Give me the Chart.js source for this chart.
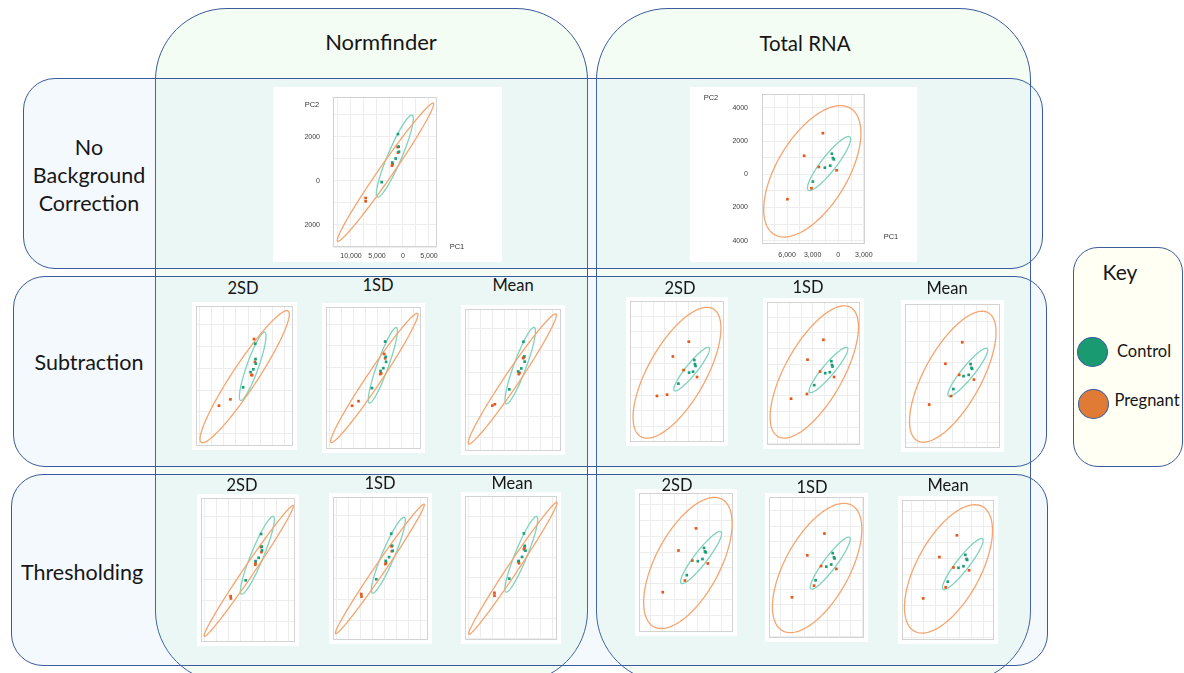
<!DOCTYPE html>
<html>
<head>
<meta charset="utf-8">
<title>PCA of background correction and normalisation methods</title>
<script src="https://cdn.jsdelivr.net/npm/chart.js@4.4.1/dist/chart.umd.min.js"></script>
<style>
  html, body { margin: 0; padding: 0; background: #fff; }
  #stage { position: relative; width: 1184px; height: 673px; overflow: hidden; background: #fff;
           font-family: Lato, "Open Sans", sans-serif; color: #161616; }
  .box { position: absolute; box-sizing: border-box; border: 1.3px solid #3b5b9d; }
  .col { background: rgba(145, 235, 150, 0.10); border-radius: 72px; }
  .row { background: rgba(145, 195, 245, 0.10); border-radius: 32px; }
  .key { background: #fffff3; border-radius: 25px; }
  .lbl { position: absolute; z-index: 3; transform: translate(-50%, -50%); white-space: nowrap; line-height: 1; text-align: center; }
  .head { font-size: 21.5px; }
  .sub { font-size: 16.5px; }
  .axn { font-family: "Liberation Sans", sans-serif; font-size: 7.5px; color: #333; }
  .dot { position: absolute; box-sizing: border-box; width: 31px; height: 30px; border-radius: 50%; border: 1px solid #3b5b9d; }
  canvas.panel { position: absolute; z-index: 2; background: #fff; }
</style>
</head>
<body>
<div id="stage">
  <div class="box col" style="left:155px;top:7.5px;width:433px;height:675px"></div>
  <div class="box col" style="left:595.5px;top:7.5px;width:435px;height:675px"></div>
  <div class="box row" style="left:23px;top:78px;width:1020px;height:191px"></div>
  <div class="box row" style="left:13px;top:276px;width:1034px;height:191px"></div>
  <div class="box row" style="left:10.5px;top:473.5px;width:1037px;height:192.5px"></div>
  <div class="box key" style="left:1073px;top:247px;width:110px;height:220px"></div>

  <div class="lbl head" style="left:381px;top:42px;font-size:22px">Normfinder</div>
  <div class="lbl head" style="left:805px;top:43px;font-size:20.5px">Total RNA</div>
  <div class="lbl head" style="left:89px;top:175px;line-height:28px">No<br>Background<br>Correction</div>
  <div class="lbl head" style="left:89px;top:363px">Subtraction</div>
  <div class="lbl head" style="left:82px;top:573px">Thresholding</div>

  <div class="lbl sub" style="left:243px;top:288px">2SD</div>
  <div class="lbl sub" style="left:378px;top:285px">1SD</div>
  <div class="lbl sub" style="left:513px;top:285px">Mean</div>
  <div class="lbl sub" style="left:680px;top:288px">2SD</div>
  <div class="lbl sub" style="left:808px;top:287px">1SD</div>
  <div class="lbl sub" style="left:947px;top:288px">Mean</div>
  <div class="lbl sub" style="left:242px;top:485px">2SD</div>
  <div class="lbl sub" style="left:380px;top:483px">1SD</div>
  <div class="lbl sub" style="left:512px;top:483px">Mean</div>
  <div class="lbl sub" style="left:677px;top:485px">2SD</div>
  <div class="lbl sub" style="left:812px;top:487px">1SD</div>
  <div class="lbl sub" style="left:948px;top:485px">Mean</div>

  <div class="lbl head" style="left:1120px;top:271px;font-size:21px">Key</div>
  <div class="dot" style="left:1077px;top:337px;background:#1a9a70"></div>
  <div class="dot" style="left:1078px;top:389px;background:#e07b35"></div>
  <div class="lbl sub" style="left:1144px;top:351px">Control</div>
  <div class="lbl sub" style="left:1147px;top:400px">Pregnant</div>
</div>

<script>
// PCA scores (PC1, PC2) per sample, and 95% ellipses per group.
// Ellipse arrays: centre PC1, centre PC2, half-span PC1, half-span PC2, PC1-PC2 correlation.

// Normfinder - no background correction
const nfNoBgControl  = [[-960,2120],[-830,1550],[-770,1320],[-1410,1010],[-2050,830],[-4100,-60]];
const nfNoBgPregnant = [[-1030,1530],[-960,1280],[-1990,750],[-2120,690],[-7180,-780],[-7180,-930]];
const nfNoBgControlEllipse  = [-1570,1120,3560,1860,0.914];
const nfNoBgPregnantEllipse = [-3370,390,9260,3130,0.985];

// Total RNA - no background correction
const trNoBgControl  = [[-745,1240],[-627,980],[-510,900],[-941,520],[-1568,400],[-2979,-440]];
const trNoBgPregnant = [[-1803,2480],[-3998,1120],[-2274,440],[-196,240],[-3136,-840],[-5958,-1500]];
const trNoBgControlEllipse  = [-1080,650,2530,1630,0.9];
const trNoBgPregnantEllipse = [-3040,180,5700,3960,0.58];

// Normfinder - subtraction
const nfSub2sdControl  = [[-1020,2120],[-960,1420],[-900,1210],[-1410,950],[-1980,820],[-3520,120]];
const nfSub2sdPregnant = [[-1280,2340],[-1090,1290],[-1790,690],[-1660,680],[-6140,-430],[-8510,-720]];
const nfSub2sdControlEllipse  = [-1540,1090,2750,1570,0.885];
const nfSub2sdPregnantEllipse = [-3200,610,9220,3030,0.943];

const nfSub1sdControl  = [[-900,2200],[-770,1500],[-700,1270],[-1280,980],[-1860,850],[-3650,70]];
const nfSub1sdPregnant = [[-1090,1630],[-900,1430],[-1730,740],[-1920,710],[-6460,-530],[-7810,-740]];
const nfSub1sdControlEllipse  = [-1380,1110,3040,1730,0.91];
const nfSub1sdPregnantEllipse = [-3170,530,9120,2960,0.98];

const nfSubMeanControl  = [[-1090,2400],[-900,1730],[-830,1490],[-1540,1180],[-2180,1040],[-4030,220]];
const nfSubMeanPregnant = [[-1150,1650],[-1020,1690],[-2050,920],[-1920,980],[-7040,-460],[-7550,-520]];
const nfSubMeanControlEllipse  = [-1760,1310,3170,1750,0.9];
const nfSubMeanPregnantEllipse = [-3420,700,9180,2980,0.98];

// Total RNA - subtraction
const trSub2sdControl  = [[-745,1220],[-666,960],[-588,840],[-902,480],[-1411,420],[-2783,-280]];
const trSub2sdPregnant = [[-1450,2380],[-3489,1440],[-2117,580],[-392,140],[-4234,-980],[-5527,-1060]];
const trSub2sdControlEllipse  = [-1080,640,2290,1380,0.92];
const trSub2sdPregnantEllipse = [-2960,410,5630,4150,0.68];

const trSub1sdControl  = [[-627,1200],[-549,960],[-470,860],[-823,500],[-1411,440],[-2822,-320]];
const trSub1sdPregnant = [[-1646,2560],[-3685,1300],[-2078,540],[-274,200],[-3763,-880],[-5802,-1180]];
const trSub1sdControlEllipse  = [-1000,640,2490,1440,0.92];
const trSub1sdPregnantEllipse = [-2820,520,5680,4200,0.68];

const trSubMeanControl  = [[-706,898],[-588,709],[-510,662],[-941,362],[-1607,299],[-2901,-347]];
const trSubMeanPregnant = [[-1764,1985],[-3920,914],[-2156,362],[-274,126],[-3214,-693],[-5998,-1118]];
const trSubMeanControlEllipse  = [-1060,490,2550,1200,0.92];
const trSubMeanPregnantEllipse = [-2980,270,5530,3260,0.68];

// Normfinder - thresholding
const nfThr2sdControl  = [[-770,2160],[-640,1560],[-580,1380],[-1280,1030],[-1920,870],[-3970,-40]];
const nfThr2sdPregnant = [[-770,1540],[-700,1300],[-1920,780],[-1980,700],[-7100,-790],[-7040,-900]];
const nfThr2sdControlEllipse  = [-1540,1150,3520,1850,0.917];
const nfThr2sdPregnantEllipse = [-3330,410,9280,3110,0.99];

const nfThr1sdControl  = [[-1090,2130],[-900,1560],[-770,1320],[-1540,1020],[-2240,840],[-4220,-30]];
const nfThr1sdPregnant = [[-1020,1530],[-960,1300],[-2180,760],[-2300,690],[-7360,-730],[-7300,-850]];
const nfThr1sdControlEllipse  = [-1700,1110,3550,1800,0.917];
const nfThr1sdPregnantEllipse = [-3460,460,9280,3070,0.99];

const nfThrMeanControl  = [[-960,2180],[-770,1570],[-640,1330],[-1340,1020],[-2050,820],[-4030,-50]];
const nfThrMeanPregnant = [[-830,1490],[-960,1400],[-1980,710],[-2110,790],[-7100,-750],[-7100,-890]];
const nfThrMeanControlEllipse  = [-1500,1150,3420,1870,0.917];
const nfThrMeanPregnantEllipse = [-3260,460,9220,3260,0.99];

// Total RNA - thresholding
const trThr2sdControl  = [[-706,1260],[-588,1040],[-470,980],[-902,560],[-1490,420],[-2901,-460]];
const trThr2sdPregnant = [[-1725,2500],[-3959,1100],[-2195,460],[-235,280],[-3136,-800],[-5958,-1540]];
const trThr2sdControlEllipse  = [-1080,650,2610,1650,0.92];
const trThr2sdPregnantEllipse = [-2760,310,5630,4150,0.6];

const trThr1sdControl  = [[-823,1280],[-666,1020],[-588,940],[-1019,560],[-1646,420],[-3018,-440]];
const trThr1sdPregnant = [[-1882,2520],[-4077,1140],[-2313,460],[-353,280],[-3214,-780],[-6037,-1520]];
const trThr1sdControlEllipse  = [-1140,650,2550,1650,0.92];
const trThr1sdPregnantEllipse = [-2820,340,5720,4100,0.6];

const trThrMeanControl  = [[-745,1220],[-588,960],[-510,900],[-980,500],[-1607,400],[-2940,-480]];
const trThrMeanPregnant = [[-1803,2460],[-3998,1080],[-2234,420],[-274,240],[-3214,-840],[-6037,-1540]];
const trThrMeanControlEllipse  = [-1060,640,2550,1620,0.92];
const trThrMeanPregnantEllipse = [-2860,330,5530,4070,0.6];

// Tick values and printed labels of the two labelled plots
const nfTickX       = [-12500, -10000, -7500, -5000, -2500, 0, 2500, 5000];
const nfTickXLabels = ['', '10,000', '', '5,000', '', '0', '', '5,000'];
const nfTickY       = [-3000, -2000, -1000, 0, 1000, 2000, 3000];
const nfTickYLabels = ['', '2000', '', '0', '', '2000', ''];
const trTickX       = [-7500, -6000, -4500, -3000, -1500, 0, 1500, 3000];
const trTickXLabels = ['', '6,000', '', '3,000', '', '0', '', '3,000'];
const trTickY       = [-4000, -3000, -2000, -1000, 0, 1000, 2000, 3000, 4000];
const trTickYLabels = ['4000', '', '2000', '', '0', '', '2000', '', '4000'];

const CONTROL = '#1b9e77', PREGNANT = '#e4581c';
const CONTROL_RING = '#7fd3bd', PREGNANT_RING = '#f5a56f';

// Placement of each plot: at = canvas left, top, width, height;
// inset = plot-area left, top, right, bottom margins inside the canvas.
const panels = [
  { c: nfNoBgControl, p: nfNoBgPregnant, e: [nfNoBgControlEllipse, nfNoBgPregnantEllipse],
    at: [273, 87, 229, 175], inset: [60, 10, 65, 15], xr: [-13460, 6540], yr: [-3000, 3800],
    xt: [nfTickX, nfTickXLabels], yt: [nfTickY, nfTickYLabels], pad: [5, 13] },
  { c: trNoBgControl, p: trNoBgPregnant, e: [trNoBgControlEllipse, trNoBgPregnantEllipse],
    at: [690, 87, 227, 175], inset: [72, 7, 52, 18], xr: [-8940, 3140], yr: [-4200, 4840],
    xt: [trTickX, trTickXLabels], yt: [trTickY, trTickYLabels], pad: [7, 14] },

  { c: nfSub2sdControl, p: nfSub2sdPregnant, e: [nfSub2sdControlEllipse, nfSub2sdPregnantEllipse],
    at: [192, 302, 105, 148], xr: [-13250, 6780], yr: [-2570, 3855], step: [2500, 1000] },
  { c: nfSub1sdControl, p: nfSub1sdPregnant, e: [nfSub1sdControlEllipse, nfSub1sdPregnantEllipse],
    at: [322, 303, 103, 150], xr: [-13250, 6590], yr: [-2720, 3780], step: [2500, 1000] },
  { c: nfSubMeanControl, p: nfSubMeanPregnant, e: [nfSubMeanControlEllipse, nfSubMeanPregnantEllipse],
    at: [461, 305, 104, 150], xr: [-13250, 6720], yr: [-2600, 3900], step: [2500, 1000] },

  { c: trSub2sdControl, p: trSub2sdPregnant, e: [trSub2sdControlEllipse, trSub2sdPregnantEllipse],
    at: [626, 297, 102, 149], xr: [-8980, 3060], yr: [-3980, 4960], step: [1500, 1000] },
  { c: trSub1sdControl, p: trSub1sdPregnant, e: [trSub1sdControlEllipse, trSub1sdPregnantEllipse],
    at: [763, 298, 101, 151], xr: [-8900, 3060], yr: [-4120, 4960], step: [1500, 1000] },
  { c: trSubMeanControl, p: trSubMeanPregnant, e: [trSubMeanControlEllipse, trSubMeanPregnantEllipse],
    at: [901, 300, 103, 152], xr: [-9090, 3060], yr: [-3280, 3890], step: [1500, 1000] },

  { c: nfThr2sdControl, p: nfThr2sdPregnant, e: [nfThr2sdControlEllipse, nfThr2sdPregnantEllipse],
    at: [197, 494, 102, 152], xr: [-13250, 6270], yr: [-2970, 3870], step: [2500, 1000] },
  { c: nfThr1sdControl, p: nfThr1sdPregnant, e: [nfThr1sdControlEllipse, nfThr1sdPregnantEllipse],
    at: [329, 493, 103, 151], xr: [-13250, 6590], yr: [-2910, 3870], step: [2500, 1000] },
  { c: nfThrMeanControl, p: nfThrMeanPregnant, e: [nfThrMeanControlEllipse, nfThrMeanPregnantEllipse],
    at: [461, 492, 100, 152], xr: [-13250, 5950], yr: [-3080, 4030], step: [2500, 1000] },

  { c: trThr2sdControl, p: trThr2sdPregnant, e: [trThr2sdControlEllipse, trThr2sdPregnantEllipse],
    at: [635, 489, 102, 147], xr: [-8980, 2980], yr: [-4060, 4740], step: [1500, 1000] },
  { c: trThr1sdControl, p: trThr1sdPregnant, e: [trThr1sdControlEllipse, trThr1sdPregnantEllipse],
    at: [765, 493, 103, 149], xr: [-8980, 3180], yr: [-4100, 4840], step: [1500, 1000] },
  { c: trThrMeanControl, p: trThrMeanPregnant, e: [trThrMeanControlEllipse, trThrMeanPregnantEllipse],
    at: [898, 496, 100, 148], xr: [-8700, 2860], yr: [-4180, 4700], step: [1500, 1000] }
];

// Axis titles of the labelled plots (page positions)
const axisNames = [['PC2', 312, 105], ['PC1', 457, 247], ['PC2', 711, 98], ['PC1', 891, 237]];

Chart.defaults.font.family = "'Liberation Sans', sans-serif";

// Frames the plot area and draws each group's confidence ellipse through the chart's scales
function ellipsePlugin(shapes) {
  return {
    id: 'groupEllipses',
    beforeDatasetsDraw(chart) {
      const { ctx, chartArea: a, scales: { x, y } } = chart;
      ctx.save();
      ctx.strokeStyle = '#d3d3d3';
      ctx.lineWidth = 1;
      ctx.strokeRect(Math.round(a.left) + 0.5, Math.round(a.top) + 0.5,
                     Math.round(a.right - a.left) - 1, Math.round(a.bottom - a.top) - 1);
      shapes.forEach(({ shape: [cx, cy, hx, hy, r], color }) => {
        const phi = Math.acos(r);
        ctx.beginPath();
        for (let k = 0; k <= 180; k++) {
          const t = (k / 180) * 2 * Math.PI;
          const px = x.getPixelForValue(cx + hx * Math.cos(t));
          const py = y.getPixelForValue(cy + hy * Math.cos(t - phi));
          if (k === 0) ctx.moveTo(px, py); else ctx.lineTo(px, py);
        }
        ctx.closePath();
        ctx.strokeStyle = color;
        ctx.lineWidth = 1.3;
        ctx.stroke();
      });
      ctx.restore();
    }
  };
}

function gridValues([lo, hi], step) {
  const out = [];
  for (let v = Math.ceil(lo / step) * step; v <= hi; v += step) out.push(v);
  return out;
}

function axisOptions(range, values, labels, fitKey, fitSize, pad) {
  return {
    type: 'linear',
    min: range[0],
    max: range[1],
    afterBuildTicks: s => { s.ticks = values.map(v => ({ value: v })); },
    afterFit: s => {
      // fixed axis band; no extra room reserved for overhanging labels
      s[fitKey] = fitSize;
      s.paddingLeft = s.paddingRight = s.paddingTop = s.paddingBottom = 0;
    },
    grid: { color: '#ededed', lineWidth: 1, drawTicks: false },
    border: { display: false },
    ticks: {
      display: !!labels,
      autoSkip: false,
      maxRotation: 0,
      padding: pad || 0,
      color: '#3c3c3c',
      font: { size: 7 },
      callback: (v, i) => (labels ? labels[i] : '')
    }
  };
}

const stage = document.getElementById('stage');

panels.forEach(pn => {
  const cv = document.createElement('canvas');
  cv.className = 'panel';
  cv.width = pn.at[2];
  cv.height = pn.at[3];
  cv.style.left = pn.at[0] + 'px';
  cv.style.top = pn.at[1] + 'px';
  stage.appendChild(cv);

  const inset = pn.inset || [1, 1, 1, 1];
  const xVals = pn.xt ? pn.xt[0] : gridValues(pn.xr, pn.step[0]);
  const yVals = pn.yt ? pn.yt[0] : gridValues(pn.yr, pn.step[1]);
  const pts = arr => arr.map(([x, y]) => ({ x, y }));

  new Chart(cv, {
    type: 'scatter',
    data: {
      datasets: [
        { label: 'Control', data: pts(pn.c), backgroundColor: CONTROL, borderWidth: 0, pointStyle: 'rect', pointRadius: 1.9 },
        { label: 'Pregnant', data: pts(pn.p), backgroundColor: PREGNANT, borderWidth: 0, pointStyle: 'rect', pointRadius: 1.9 }
      ]
    },
    options: {
      responsive: false,
      animation: false,
      devicePixelRatio: 1,
      events: [],
      layout: { padding: { left: 0, top: inset[1], right: inset[2], bottom: 0 } },
      plugins: { legend: { display: false }, tooltip: { enabled: false } },
      scales: {
        x: axisOptions(pn.xr, xVals, pn.xt && pn.xt[1], 'height', inset[3], pn.pad && pn.pad[0]),
        y: axisOptions(pn.yr, yVals, pn.yt && pn.yt[1], 'width', inset[0], pn.pad && pn.pad[1])
      }
    },
    plugins: [ellipsePlugin([
      { shape: pn.e[0], color: CONTROL_RING },
      { shape: pn.e[1], color: PREGNANT_RING }
    ])]
  });
});

axisNames.forEach(([text, x, y]) => {
  const d = document.createElement('div');
  d.className = 'lbl axn';
  d.style.left = x + 'px';
  d.style.top = y + 'px';
  d.textContent = text;
  stage.appendChild(d);
});
</script>
</body>
</html>
